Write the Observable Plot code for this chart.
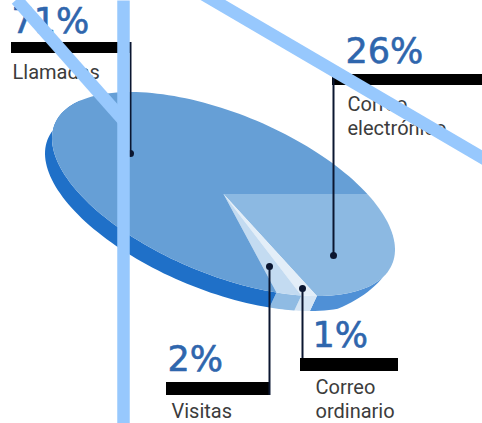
<!DOCTYPE html>
<html><head><meta charset="utf-8">
<style>html,body{margin:0;padding:0;background:#fff}svg{display:block}</style>
<script src="https://cdn.jsdelivr.net/npm/d3@7"></script>
<script src="https://cdn.jsdelivr.net/npm/@observablehq/plot@0.6"></script>
</head><body><script>
// Data
const categories = ["Correo electrónico", "Correo ordinario", "Visitas", "Llamadas"];
const percents = [26, 1, 2, 71];
// Angular width each slice is actually drawn with in the picture (degrees)
const drawnDegrees = [90, 6, 9, 255];
const topColors = ["#8cb9e2", "#e3eef8", "#c3dbf1", "#669fd6"];
const sideColors = ["#4f90d6", "#d5e5f4", "#8fbbe3", "#1f70c8"];

// Layout
const W = 482, H = 423;
const cx = 223.5, cy = 194, A = 171.5, B = 102, phase = -57, startT = 33;
const depthX = -7, depthY = 15;
const rad = d => d * Math.PI / 180;
const px = t => cx + A * Math.cos(rad(t));
const py = t => cy + B * Math.cos(rad(t - phase));
// the rim thins out towards the right-hand end of the disc
const taper = t => Math.max(0, Math.min(1, (-21 - t) / 24));

const ends = d3.cumsum(drawnDegrees);
const slices = categories.map((c, i) => ({c, i, t0: startT - (i ? ends[i-1] : 0), t1: startT - ends[i]}));
const arcRows = [], sideRows = [];
for (const s of slices) {
  const n = Math.max(8, Math.ceil((s.t0 - s.t1) / 2));
  for (let k = 0; k <= n; k++) {
    const t = s.t0 + (s.t1 - s.t0) * k / n;
    arcRows.push({z: s.c, fill: topColors[s.i], x1: cx, y1: cy, x2: px(t), y2: py(t)});
    if (t <= 33 && t >= -215) sideRows.push({z: s.c, fill: sideColors[s.i], x1: px(t), y1: py(t), x2: px(t) + depthX * taper(t), y2: py(t) + depthY * taper(t)});
  }
}

const pctText = [
  {t: percents[3] + "%", x: 11, y: 32}, {t: percents[0] + "%", x: 345, y: 62},
  {t: percents[2] + "%", x: 167, y: 370}, {t: percents[1] + "%", x: 312, y: 346}
];
const nameText = [
  {t: "Llamadas", x: 12, y: 78}, {t: "Correo", x: 347, y: 110}, {t: "electrónico", x: 347, y: 134},
  {t: "Visitas", x: 171, y: 417}, {t: "Correo", x: 315, y: 393}, {t: "ordinario", x: 315, y: 417}
];
const bars = [
  {x1: 11, x2: 130, y1: 42, y2: 53}, {x1: 332, x2: 482, y1: 74, y2: 85},
  {x1: 166, x2: 270, y1: 382, y2: 395}, {x1: 300, x2: 398, y1: 358, y2: 371}
];
const leaders = [
  {x: 130, y1: 42, y2: 153, dotY: 153}, {x: 333, y1: 74, y2: 255, dotY: 255},
  {x: 269, y1: 266, y2: 395, dotY: 266}, {x: 302, y1: 288, y2: 358, dotY: 288}
];
const strokes = [
  {x1: 16, y1: -1, x2: 124, y2: 121},
  {x1: 123, y1: 0, x2: 123, y2: 423},
  {x1: 203, y1: -6, x2: 490, y2: 162}
];

const plot = Plot.plot({
  width: W, height: H, margin: 0,
  x: {domain: [0, W], range: [0, W], axis: null},
  y: {domain: [0, H], range: [0, H], axis: null},
  marks: [
    Plot.area(sideRows, {x1: "x1", y1: "y1", x2: "x2", y2: "y2", z: "z", fill: "fill", curve: "linear"}),
    Plot.area(arcRows, {x1: "x1", y1: "y1", x2: "x2", y2: "y2", z: "z", fill: "fill", curve: "linear"}),
    Plot.rect(bars, {x1: "x1", x2: "x2", y1: "y1", y2: "y2", fill: "#000"}),
    Plot.ruleX(leaders, {x: "x", y1: "y1", y2: "y2", stroke: "#0b1630", strokeWidth: 2}),
    Plot.dot(leaders, {x: "x", y: "dotY", r: 3.5, fill: "#0b1630"}),
    Plot.text(pctText, {x: "x", y: "y", text: "t", textAnchor: "start", lineAnchor: "bottom", fontFamily: "DejaVu Sans", fontSize: 35, fill: "#2f66ad", stroke: "#2f66ad", strokeWidth: 0.6}),
    Plot.text(nameText, {x: "x", y: "y", text: "t", textAnchor: "start", lineAnchor: "bottom", fontFamily: "Roboto", fontSize: 20, fill: "#3c3c3c"}),
    Plot.link(strokes, {x1: "x1", y1: "y1", x2: "x2", y2: "y2", stroke: "#97c8fd", strokeWidth: 12.5})
  ]
});
document.body.appendChild(plot);
</script></body></html>
